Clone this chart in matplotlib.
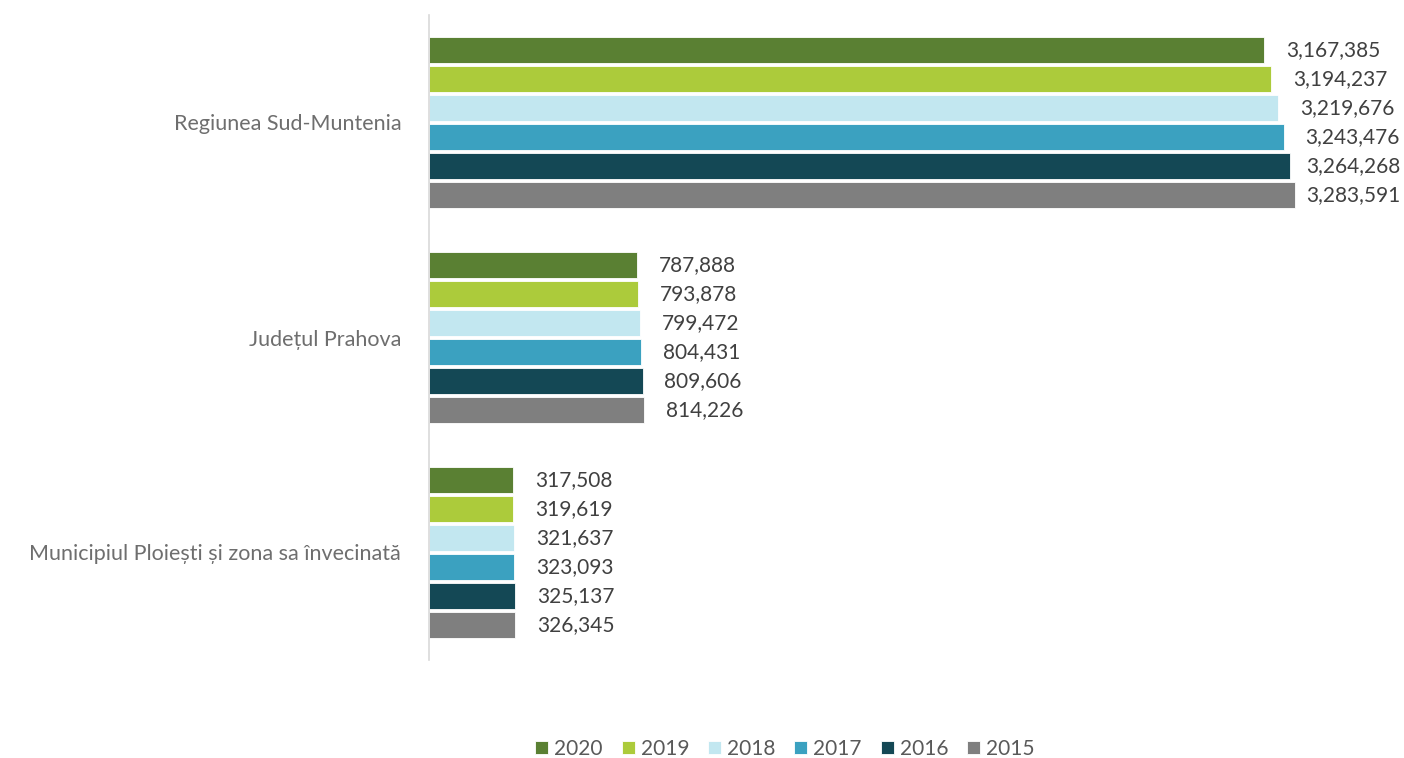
import matplotlib
matplotlib.use("Agg")
import matplotlib.pyplot as plt
import numpy as np

categories = ["Regiunea Sud-Muntenia", "Județul Prahova", "Municipiul Ploiești și zona sa învecinată"]
years = ["2020", "2019", "2018", "2017", "2016", "2015"]
values = {
    "2020": [3167385, 787888, 317508],
    "2019": [3194237, 793878, 319619],
    "2018": [3219676, 799472, 321637],
    "2017": [3243476, 804431, 323093],
    "2016": [3264268, 809606, 325137],
    "2015": [3283591, 814226, 326345],
}
colors = ["#5A8033", "#ACCB3B", "#C2E7F0", "#3BA1C0", "#144855", "#7F7F7F"]

plt.rcParams['font.family'] = ['Lato', 'DejaVu Sans']

W, H = 1404, 758
fig = plt.figure(figsize=(W/100, H/100), dpi=100)
ax = fig.add_axes([429/W, 1-660/H, 923/W, 645/H])

n = len(years)
step = 0.135
bh = 0.121
y0 = np.arange(len(categories))
labels = []
for i, yr in enumerate(years):
    ys = y0 + (i - (n-1)/2) * step
    bars = ax.barh(ys, values[yr], height=bh, color=colors[i], label=yr, edgecolor='white', linewidth=0.6)
    for b, v in zip(bars, values[yr]):
        t = ax.annotate(f"{v:,}", xy=(b.get_width(), b.get_y()+b.get_height()/2),
                        xytext=(15.8, 0), textcoords='offset points', va='center', ha='left',
                        fontsize=15, color='#404040')
        labels.append(t)

ax.set_ylim(len(categories)-0.5, -0.5)
ax.set_xlim(0, 3.5e6)
ax.set_yticks(y0)
ax.set_yticklabels(categories, fontsize=15.5, color='#6E6E6E')
ax.tick_params(axis='y', length=0, pad=20)
ax.set_xticks([])
for s in ['top', 'right', 'bottom']:
    ax.spines[s].set_visible(False)
ax.spines['left'].set_color('#D9D9D9')
ax.spines['left'].set_linewidth(1.2)

fig.legend(loc='center', bbox_to_anchor=(785/W, 1-749/H), ncol=6, frameon=False,
           fontsize=15, handlelength=0.63, handleheight=0.63, handletextpad=0.29,
           columnspacing=0.9, labelcolor='#595959')

# keep labels inside the figure (like the original, which clamps at the right edge)
fig.canvas.draw()
r = fig.canvas.get_renderer()
for t in labels:
    bb = t.get_window_extent(r)
    over = bb.x1 - (W - 4)
    if over > 0:
        x, y = t.xyann
        t.xyann = (x - over * 72 / 100, y)

fig.savefig("out.png", dpi=100)
